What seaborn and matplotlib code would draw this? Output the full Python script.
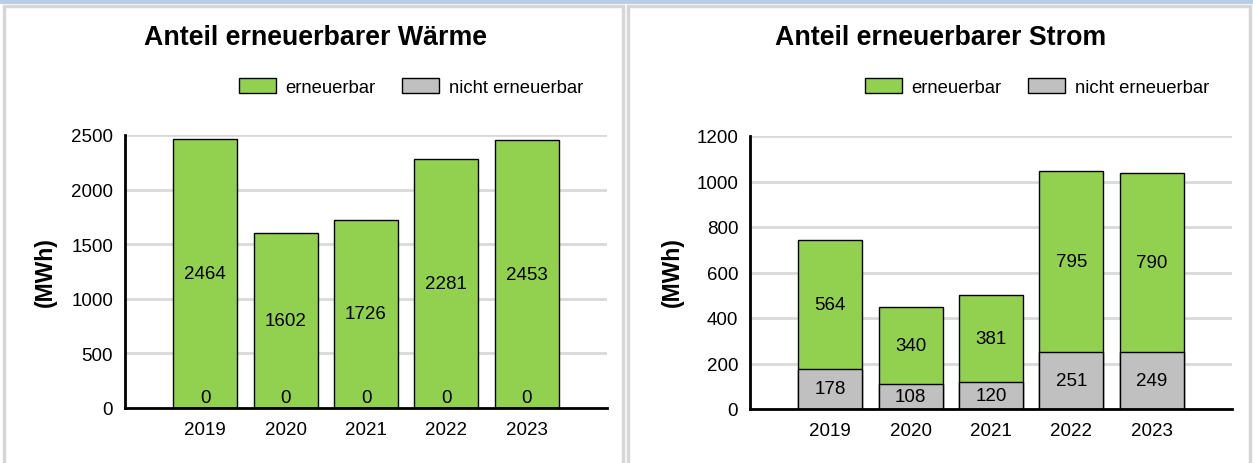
import matplotlib
matplotlib.use("Agg")
import matplotlib.pyplot as plt
import numpy as np
import pandas as pd
import seaborn as sns
from matplotlib.patches import Rectangle, Patch

years = ["2019", "2020", "2021", "2022", "2023"]
waerme_erneuerbar = [2464, 1602, 1726, 2281, 2453]
waerme_nicht = [0, 0, 0, 0, 0]
strom_erneuerbar = [564, 340, 381, 795, 790]
strom_nicht = [178, 108, 120, 251, 249]
legend_labels = ["erneuerbar", "nicht erneuerbar"]

green = "#92d050"
grey = "#c0c0c0"

sns.set_style("white")
plt.rcParams['font.family'] = ['Liberation Sans', 'DejaVu Sans']
plt.rcParams['text.color'] = 'black'
plt.rcParams['xtick.color'] = 'black'
plt.rcParams['ytick.color'] = 'black'
plt.rcParams['axes.labelcolor'] = 'black'

W, H = 1253, 464
fig = plt.figure(figsize=(W / 100, H / 100), dpi=100)


def px(x0, y0, x1, y1):
    # pixel box (top-left origin) -> figure fraction [l, b, w, h]
    return [x0 / W, 1 - y1 / H, (x1 - x0) / W, (y1 - y0) / H]


def deco(x0, y0, x1, y1, **kw):
    fig.patches.append(Rectangle((x0 / W, 1 - y1 / H), (x1 - x0) / W, (y1 - y0) / H,
                                 transform=fig.transFigure, **kw))


# page frame
deco(0, 0, W, 5, facecolor="#b9cde5", edgecolor="none")
deco(4, 7, 623, 470, facecolor="none", edgecolor="#d6d6d6", lw=2.5)
deco(628, 7, 1250, 470, facecolor="none", edgecolor="#d6d6d6", lw=2.5)


def panel(box, title, tx, lx, lgx, ern, nicht, ymax, ystep):
    ax = fig.add_axes(px(*box))
    df = pd.DataFrame({"Jahr": years, "erneuerbar": ern, "nicht": nicht})
    df["gesamt"] = df["erneuerbar"] + df["nicht"]
    sns.barplot(data=df, x="Jahr", y="gesamt", color=green, saturation=1,
                edgecolor="black", linewidth=1, width=0.8, ax=ax)
    sns.barplot(data=df, x="Jahr", y="nicht", color=grey, saturation=1,
                edgecolor="black", linewidth=1, width=0.8, ax=ax)

    for i, (e, n) in enumerate(zip(ern, nicht)):
        ax.text(i, max(n / 2, ymax * 0.04), str(n), ha="center", va="center", fontsize=13.5)
        ax.text(i, n + e / 2, str(e), ha="center", va="center", fontsize=13.5)

    ax.set_xlim(-1, 5)
    ax.set_ylim(0, ymax)
    ax.set_yticks(np.arange(0, ymax + 1, ystep))
    ax.set_xticks([-1, 5], minor=True)
    ax.set_axisbelow(True)
    ax.yaxis.grid(True, color="#d9d9d9", lw=2)
    ax.set_xlabel("")
    ax.set_ylabel("")
    sns.despine(ax=ax)
    for s in ["left", "bottom"]:
        ax.spines[s].set_linewidth(2)
        ax.spines[s].set_color("black")
    ax.tick_params(which="both", direction="out", length=4.5, width=1, color="black",
                   labelcolor="black", labelsize=13.5, pad=4)
    ax.tick_params(axis="x", which="major", pad=5)

    fig.text(tx / W, 1 - 38 / H, title, ha="center", va="center",
             fontsize=19.3, fontweight="bold", color="black")
    fig.text(lx / W, 1 - 272 / H, "(MWh)", ha="center", va="center",
             rotation=90, fontsize=16.5, fontweight="bold", color="black")
    handles = [Patch(facecolor=green, edgecolor="black", lw=1),
               Patch(facecolor=grey, edgecolor="black", lw=1)]
    fig.legend(handles, legend_labels, loc="center", bbox_to_anchor=(lgx / W, 1 - 88 / H),
               ncol=2, frameon=False, fontsize=13.3, handlelength=2.0, handleheight=0.9,
               handletextpad=0.5, columnspacing=1.45, borderpad=0, labelcolor="black")
    return ax


panel((125, 136, 607, 409), "Anteil erneuerbarer Wärme", 315, 45, 411,
      waerme_erneuerbar, waerme_nicht, 2500, 500)
panel((750, 137, 1232, 410), "Anteil erneuerbarer Strom", 941, 672, 1037,
      strom_erneuerbar, strom_nicht, 1200, 200)

fig.savefig("out.png", dpi=100)
